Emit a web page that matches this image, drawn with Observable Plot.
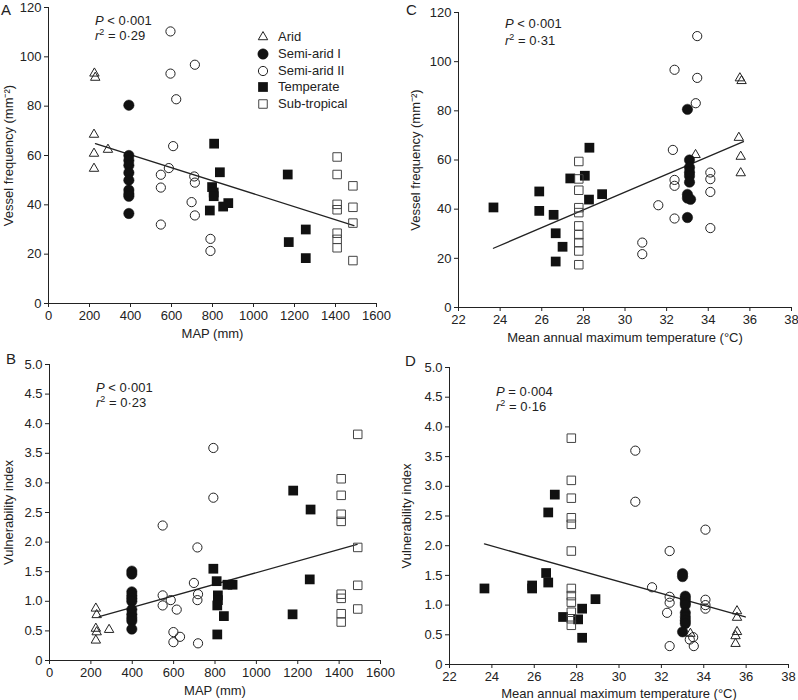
<!DOCTYPE html>
<html>
<head>
<meta charset="utf-8">
<script src="https://cdn.jsdelivr.net/npm/d3@7"></script>
<script src="https://cdn.jsdelivr.net/npm/@observablehq/plot@0.6"></script>
<style>
  body { margin: 0; background: #fff; font-family: "Liberation Sans", Arial, sans-serif; color: #222; }
  #fig { position: relative; width: 798px; height: 700px; overflow: hidden; background: #fff; }
  .pl { position: absolute; }
  .note { position: absolute; font-size: 13px; line-height: 16px; white-space: nowrap; }
  .note sup { font-size: 9px; line-height: 0; vertical-align: 5px; }
  .letter { position: absolute; font-size: 15px; line-height: 17px; }
  .leg { position: absolute; font-size: 13px; line-height: 16px; height: 16px; display: flex; align-items: center; white-space: nowrap; }
  .leg svg { margin-right: 7px; }
</style>
</head>
<body>
<div id="fig"></div>
<script>
// ---------- groups ----------
const groups = ["Arid", "Semi-arid I", "Semi-arid II", "Temperate", "Sub-tropical"];

// ---------- Panel A: MAP (mm) vs vessel frequency (mm^-2) ----------
const mapVF_arid = [[224,93.3],[228,91.6],[222,68.5],[222,60.8],[222,54.7],[290,62.4]];
const mapVF_semiAridI = [[392,80.4],[392,60],[392,58],[392,56],[392,53],[392,50],[392,46],[392,44.5],[392,43.5],[392,36.5]];
const mapVF_semiAridII = [[595,110.3],[595,93.2],[714,96.8],[623,82.8],[608,63.8],[587,54.9],[548,52.2],[548,47],[711,51.5],[714,49],[698,41.1],[714,35.7],[548,32],[790,26.2],[790,21.3]];
const mapVF_temperate = [[808,64.8],[836,53.2],[798,47.2],[806,45],[806,43.5],[787,37.7],[852,39.3],[877,40.7],[1167,52.3],[1172,24.9],[1255,30],[1255,18.4]];
const mapVF_subtropical = [[1408,59.4],[1408,52.3],[1408,40.2],[1408,38],[1408,28.5],[1408,26],[1408,22.6],[1485,47.7],[1485,39],[1485,32.6],[1485,17.4]];
const mapVF_fit = [[229,64.8],[1490,31.6]];

// ---------- Panel C: mean annual max temperature (°C) vs vessel frequency ----------
const tmaxVF_arid = [[35.52,93.3],[35.6,92.2],[35.47,69.1],[33.39,62.1],[35.56,61.4],[35.56,54.7]];
const tmaxVF_semiAridI = [[33.0,80.6],[33.1,60],[33.1,57],[33.1,55],[33.1,53.5],[33.1,51],[33.0,46],[33.0,44.5],[33.15,44],[33.0,36.6]];
const tmaxVF_semiAridII = [[33.47,110.4],[32.38,96.7],[33.47,93.4],[33.4,83.1],[32.3,64.1],[34.1,54.9],[34.1,52.2],[32.38,51.9],[32.38,49.5],[34.1,47],[31.6,41.6],[32.38,36.2],[34.1,32.3],[30.83,26.4],[30.83,21.7]];
const tmaxVF_temperate = [[28.29,65],[27.37,52.5],[28.07,53.6],[25.88,47.2],[28.27,43.9],[28.9,46.1],[23.68,40.7],[25.88,39.3],[26.57,37.7],[26.67,30.2],[27.0,24.7],[26.67,18.7]];
const tmaxVF_subtropical = [[27.78,59.4],[27.78,52.3],[27.78,47.7],[27.78,40.6],[27.78,38.6],[27.78,33.2],[27.78,29.6],[27.78,26.4],[27.78,23],[27.78,17.4]];
const tmaxVF_fit = [[23.68,24.1],[35.69,67.5]];

// ---------- Panel B: MAP (mm) vs vulnerability index ----------
const mapVI_arid = [[224,0.88],[228,0.77],[224,0.54],[228,0.48],[224,0.34],[288,0.52]];
const mapVI_semiAridI = [[398,1.51],[398,1.46],[398,1.16],[398,1.1],[398,1.05],[398,1.0],[398,0.86],[398,0.78],[398,0.72],[398,0.67],[398,0.53]];
const mapVI_semiAridII = [[792,3.59],[792,2.75],[547,2.28],[715,1.91],[698,1.31],[718,1.12],[715,1.02],[547,1.1],[547,0.93],[586,1.02],[615,0.86],[599,0.48],[631,0.4],[599,0.31],[718,0.29]];
const mapVI_temperate = [[1178,2.87],[1262,2.55],[792,1.55],[808,1.34],[860,1.28],[885,1.28],[814,1.1],[814,1.02],[811,0.93],[843,0.75],[1175,0.78],[1258,1.37],[811,0.44]];
const mapVI_subtropical = [[1490,3.82],[1410,3.07],[1410,2.79],[1410,2.47],[1410,2.35],[1490,1.91],[1490,1.27],[1410,1.12],[1410,1.05],[1490,0.87],[1410,0.79],[1410,0.65]];
const mapVI_fit = [[240,0.74],[1487,1.96]];

// ---------- Panel D: mean annual max temperature (°C) vs vulnerability index ----------
const tmaxVI_arid = [[35.57,0.9],[35.57,0.79],[35.57,0.55],[35.5,0.48],[35.5,0.35],[33.37,0.52]];
const tmaxVI_semiAridI = [[33.0,1.53],[33.0,1.48],[33.13,1.15],[33.13,1.1],[33.13,1.04],[33.13,1.0],[33.13,0.87],[33.13,0.8],[33.13,0.74],[33.13,0.69],[33.0,0.55]];
const tmaxVI_semiAridII = [[30.77,3.6],[30.77,2.74],[34.08,2.27],[32.39,1.91],[31.56,1.3],[32.39,1.14],[32.39,1.04],[32.27,0.87],[34.08,1.09],[34.08,1.0],[34.08,0.94],[33.5,0.46],[33.34,0.42],[33.53,0.31],[32.39,0.31]];
const tmaxVI_temperate = [[26.97,2.86],[26.66,2.56],[23.65,1.28],[25.9,1.33],[25.9,1.28],[26.56,1.54],[26.66,1.38],[27.36,0.8],[28.07,0.76],[28.26,0.94],[28.26,0.45],[28.89,1.1]];
const tmaxVI_subtropical = [[27.75,3.81],[27.75,3.1],[27.75,2.8],[27.75,2.47],[27.75,2.36],[27.75,1.91],[27.75,1.28],[27.75,1.16],[27.75,1.05],[27.75,0.88],[27.75,0.77],[27.75,0.66]];
const tmaxVI_fit = [[23.65,2.03],[35.96,0.8]];

// ---------- ticks & labels ----------
const mapTicks = [0,200,400,600,800,1000,1200,1400,1600];
const tmaxTicks = [22,24,26,28,30,32,34,36,38];
const vfTicks = [0,20,40,60,80,100,120];
const viTicks = [0,0.5,1,1.5,2,2.5,3,3.5,4,4.5,5];
const labelMAP = "MAP (mm)";
const labelTmax = "Mean annual maximum temperature (°C)";
const labelVF = "Vessel frequency (mm⁻²)";
const labelVI = "Vulnerability index";

// ---------- symbol styles ----------
const symStyle = {
  "Arid":         {symbol: "triangle", r: 3.5, fill: "none", stroke: "#222", strokeWidth: 1},
  "Semi-arid I":  {symbol: "circle",   r: 5.2, fill: "#111", stroke: "#111", strokeWidth: 0.5},
  "Semi-arid II": {symbol: "circle",   r: 4.6, fill: "none", stroke: "#222", strokeWidth: 1},
  "Temperate":    {symbol: "square",   r: 5.5, fill: "#111", stroke: "none"},
  "Sub-tropical": {symbol: "square",   r: 4.8, fill: "none", stroke: "#444", strokeWidth: 1}
};

function rows(series) {
  return series.flatMap(([g, pts]) => pts.map(([x, y]) => ({group: g, x, y})));
}

function panel(cfg) {
  const data = rows(cfg.series);
  const fit = cfg.fit.map(([x, y]) => ({x, y}));
  return Plot.plot({
    width: cfg.width, height: cfg.height,
    marginLeft: cfg.m[0], marginRight: cfg.m[1], marginTop: cfg.m[2], marginBottom: cfg.m[3],
    style: {fontFamily: '"Liberation Sans", Arial, sans-serif', fontSize: "13px", color: "#222", background: "transparent", overflow: "visible"},
    x: {domain: cfg.xDomain, ticks: cfg.xTicks, tickSize: 4, tickPadding: 3, line: true,
        tickFormat: d => String(d), label: cfg.xLabel, labelAnchor: "center", labelArrow: "none", labelOffset: cfg.xLabelOffset},
    y: {domain: cfg.yDomain, ticks: cfg.yTicks, tickSize: 4, tickPadding: 3, line: true,
        tickFormat: cfg.yFormat, label: cfg.yLabel, labelAnchor: "center", labelArrow: "none", labelOffset: cfg.yLabelOffset},
    marks: [
      Plot.line(fit, {x: "x", y: "y", stroke: "#222", strokeWidth: 1.3}),
      ...groups.map(g => Plot.dot(data.filter(d => d.group === g), {x: "x", y: "y", ...symStyle[g]}))
    ]
  });
}

const viFormat = d => d === 0 ? "0" : d.toFixed(1);
const vfFormat = d => String(d);

const fig = document.getElementById("fig");
function place(el, left, top) {
  el.classList.add("pl");
  el.style.left = left + "px";
  el.style.top = top + "px";
  fig.appendChild(el);
}

place(panel({
  width: 399, height: 345, m: [48, 23, 7, 42],
  xDomain: [0, 1600], xTicks: mapTicks, xLabel: labelMAP, xLabelOffset: 34,
  yDomain: [0, 120], yTicks: vfTicks, yLabel: labelVF, yLabelOffset: 45, yFormat: vfFormat,
  fit: mapVF_fit,
  series: [["Arid", mapVF_arid], ["Semi-arid I", mapVF_semiAridI], ["Semi-arid II", mapVF_semiAridII], ["Temperate", mapVF_temperate], ["Sub-tropical", mapVF_subtropical]]
}), 0, 0);

place(panel({
  width: 399, height: 345, m: [59, 7, 12, 38],
  xDomain: [22, 38], xTicks: tmaxTicks, xLabel: labelTmax, xLabelOffset: 34,
  yDomain: [0, 120], yTicks: vfTicks, yLabel: labelVF, yLabelOffset: 48, yFormat: vfFormat,
  fit: tmaxVF_fit,
  series: [["Arid", tmaxVF_arid], ["Semi-arid I", tmaxVF_semiAridI], ["Semi-arid II", tmaxVF_semiAridII], ["Temperate", tmaxVF_temperate], ["Sub-tropical", tmaxVF_subtropical]]
}), 399, 0);

place(panel({
  width: 399, height: 355, m: [49, 19, 19, 40],
  xDomain: [0, 1600], xTicks: mapTicks, xLabel: labelMAP, xLabelOffset: 34,
  yDomain: [0, 5], yTicks: viTicks, yLabel: labelVI, yLabelOffset: 46, yFormat: viFormat,
  fit: mapVI_fit,
  series: [["Arid", mapVI_arid], ["Semi-arid I", mapVI_semiAridI], ["Semi-arid II", mapVI_semiAridII], ["Temperate", mapVI_temperate], ["Sub-tropical", mapVI_subtropical]]
}), 0, 345);

place(panel({
  width: 399, height: 355, m: [50, 10, 22, 36],
  xDomain: [22, 38], xTicks: tmaxTicks, xLabel: labelTmax, xLabelOffset: 33,
  yDomain: [0, 5], yTicks: viTicks, yLabel: labelVI, yLabelOffset: 48, yFormat: viFormat,
  fit: tmaxVI_fit,
  series: [["Arid", tmaxVI_arid], ["Semi-arid I", tmaxVI_semiAridI], ["Semi-arid II", tmaxVI_semiAridII], ["Temperate", tmaxVI_temperate], ["Sub-tropical", tmaxVI_subtropical]]
}), 399, 345);

// ---------- panel letters ----------
const letters = [["A", 1, 1], ["C", 406, 1], ["B", 6, 350], ["D", 405, 352]];
for (const [t, l, tp] of letters) {
  const d = document.createElement("div");
  d.className = "letter"; d.textContent = t;
  d.style.left = l + "px"; d.style.top = tp + "px";
  fig.appendChild(d);
}

// ---------- statistics notes ----------
const notes = [
  ["<i>P</i> &lt; 0·001", "<i>r</i><sup>2</sup> = 0·29", 95, 13, 28],
  ["<i>P</i> &lt; 0·001", "<i>r</i><sup>2</sup> = 0·31", 505, 16, 33],
  ["<i>P</i> &lt; 0·001", "<i>r</i><sup>2</sup> = 0·23", 96, 380, 395],
  ["<i>P</i> = 0·004",    "<i>r</i><sup>2</sup> = 0·16", 496, 384, 399]
];
for (const [p, r, l, t1, t2] of notes) {
  for (const [h, t] of [[p, t1], [r, t2]]) {
    const d = document.createElement("div");
    d.className = "note"; d.innerHTML = h;
    d.style.left = l + "px"; d.style.top = t + "px";
    fig.appendChild(d);
  }
}

// ---------- legend (panel A) ----------
const legendTops = [29, 46, 63, 79, 96];
groups.forEach((g, i) => {
  const s = symStyle[g];
  const row = document.createElement("div");
  row.className = "leg";
  row.style.left = "255px"; row.style.top = legendTops[i] + "px";
  const type = {triangle: d3.symbolTriangle, circle: d3.symbolCircle, square: d3.symbolSquare}[s.symbol];
  const path = d3.symbol(type, Math.PI * s.r * s.r)();
  row.innerHTML = `<svg width="16" height="16" viewBox="-8 -8 16 16"><path d="${path}" fill="${s.fill}" stroke="${s.stroke}" stroke-width="${s.strokeWidth || 0}"/></svg><span>${g}</span>`;
  fig.appendChild(row);
});
</script>
</body>
</html>
